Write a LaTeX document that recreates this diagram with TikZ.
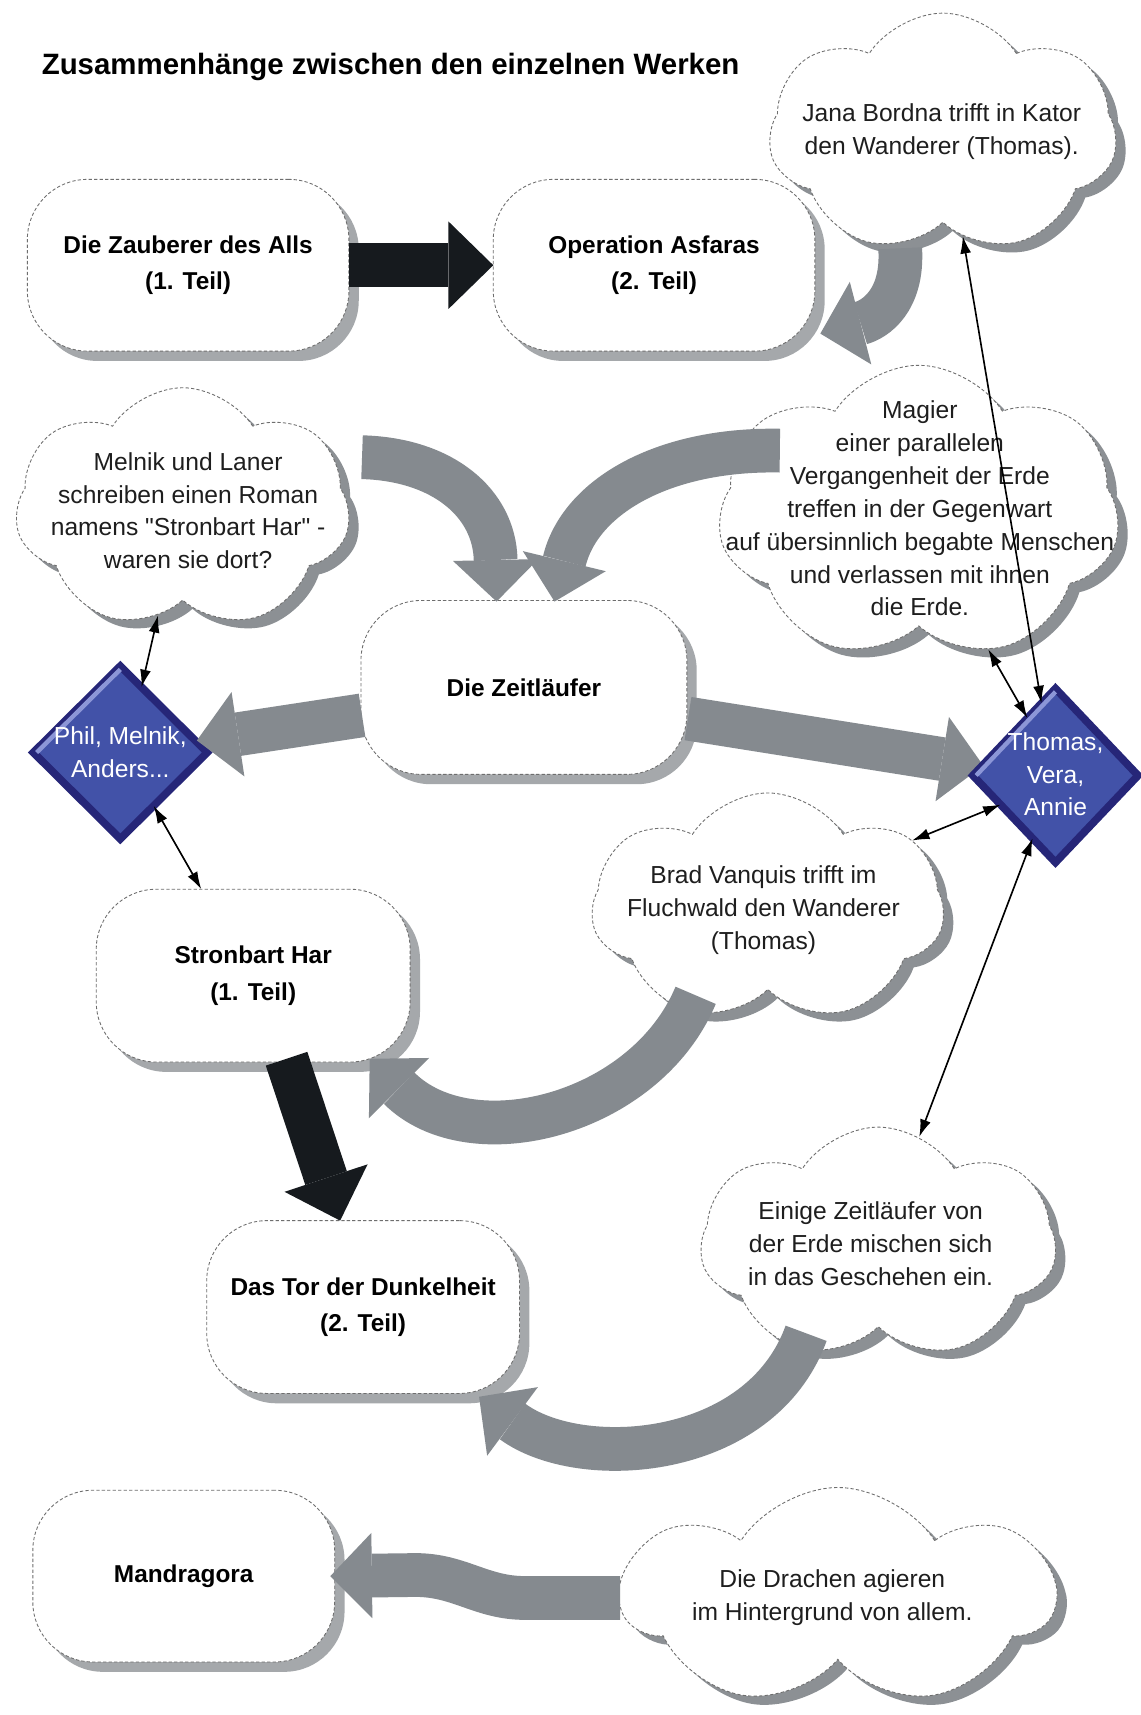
\documentclass[tikz,border=0pt]{standalone}
\usepackage{fontspec}
\setmainfont{Liberation Sans}[Ligatures=TeXOff]
\usetikzlibrary{shapes.geometric,shapes.symbols,shadows,arrows.meta,calc}
\definecolor{boxshadow}{RGB}{165,168,171}
\definecolor{cloudshadow}{RGB}{140,144,148}
\definecolor{outl}{RGB}{110,110,110}
\definecolor{garrow}{RGB}{133,138,143}
\definecolor{barrow}{RGB}{22,26,30}
\definecolor{dblue}{RGB}{66,82,168}
\definecolor{dnavy}{RGB}{38,38,120}
\definecolor{dlight}{RGB}{140,150,215}
\definecolor{txtcol}{RGB}{30,30,30}
\newcommand{\boldtxt}{\bfseries\fontsize{22.3pt}{33.5pt}\selectfont}
\newcommand{\regtxt}{\fontsize{22.5pt}{30pt}\selectfont}
\newcommand{\titletxt}{\bfseries\fontsize{26.9pt}{30pt}\selectfont}
\tikzset{
  pill/.style={rectangle, rounded corners=55pt, draw=outl, dash pattern=on 3pt off 2pt,
    line width=0.8pt, fill=white, minimum width=294pt, minimum height=157pt,
    inner sep=0pt, outer sep=0pt, align=center, font=\boldtxt, text=black,
    drop shadow={shadow xshift=9pt, shadow yshift=-9pt, fill=boxshadow, opacity=1}},
  cloudbox/.style={cloud, cloud puffs=7, cloud puff arc=115, cloud ignores aspect,
    draw=outl, dash pattern=on 3pt off 2pt, line width=0.8pt, fill=white,
    inner sep=0pt, outer sep=0pt,
    drop shadow={shadow xshift=9pt, shadow yshift=-8pt, fill=cloudshadow, opacity=1}},
  ctext/.style={align=center, font=\regtxt, text=txtcol, inner sep=0pt},
  dia/.style={diamond, fill=dblue, draw=dnavy, line width=7pt, inner sep=0pt, outer sep=0pt},
  diatext/.style={align=center, font=\regtxt, text=white, inner sep=0pt},
  garr/.style={draw=garrow, line width=40pt, -{Triangle[length=38pt,width=78pt,line width=0pt]}},
  barr/.style={draw=barrow, line width=40pt, -{Triangle[length=41pt,width=80pt,line width=0pt]}},
  conn/.style={draw=black, line width=1.5pt, {Latex[length=16pt,width=10pt]}-{Latex[length=16pt,width=10pt]}}
}
\begin{document}
\begin{tikzpicture}[x=1pt,y=-1pt]
\useasboundingbox (0,0) rectangle (1043,1568);
\fill[white] (0,0) rectangle (1043,1568);

% title
\node[anchor=base west, font=\titletxt, inner sep=0pt] (title) at (38,68) {Zusammenhänge zwischen den einzelnen Werken};

% clouds
\node[cloudbox, minimum width=318pt, minimum height=220pt] (jana) at (862,122) {};
\node[cloudbox, minimum width=306pt, minimum height=221pt] (melnik) at (167,465) {};
\node[cloudbox, minimum width=367pt, minimum height=270pt] (magier) at (840,469) {};
\node[cloudbox, minimum width=322pt, minimum height=210pt] (brad) at (702,830) {};
\node[cloudbox, minimum width=325pt, minimum height=213pt] (einige) at (803,1137) {};
\node[cloudbox, minimum width=395pt, minimum height=200pt] (drachen) at (766,1460) {};

% boxes
\node[pill] (za) at (172,242.5) {Die Zauberer des Alls\\(1. Teil)};
\node[pill] (oa) at (598,242.5) {Operation Asfaras\\(2. Teil)};
\node[pill, minimum width=298pt, minimum height=159pt] (zl) at (479,628.5) {Die Zeitläufer};
\node[pill, minimum width=287pt, minimum height=158pt] (sh) at (231.5,892) {Stronbart Har\\(1. Teil)};
\node[pill, minimum width=286pt, minimum height=158pt] (tor) at (332,1195) {Das Tor der Dunkelheit\\(2. Teil)};
\node[pill, minimum width=276pt, minimum height=157pt] (mand) at (168,1441) {Mandragora};

% free ends of the block arrows
\coordinate (janaout) at (823,227);
\coordinate (oain) at (750,305);
\coordinate (melnikout) at (331,418);
\coordinate (magierout) at (713,412);
\coordinate (zlleft) at (331,654);
\coordinate (zlright) at (629,657);
\coordinate (rdiain) at (899,700);
\coordinate (ldiain) at (180,677);
\coordinate (bradout) at (636,910);
\coordinate (shin) at (338,968);
\coordinate (shout) at (262,968);
\coordinate (einigeout) at (737,1219);
\coordinate (torin) at (438,1277);
\coordinate (drachenout) at (567,1461);

% block arrows
\draw[barr] (za.east) -- (oa.west);
\draw[garr] (janaout) .. controls (826,275) and (800,292) .. (oain);
\draw[garr] (melnikout) .. controls (405,420) and (452,460) .. ($(zl.north)+(-25,1)$);
\draw[garr] (magierout) .. controls (605,410) and (530,455) .. ($(zl.north)+(28,1)$);
\draw[garr] (bradout) .. controls (590,1020) and (430,1060) .. (shin);
\draw[barr] (shout) -- ($(tor.north)+(-21,0)$);
\draw[garr] (einigeout) .. controls (695,1335) and (530,1345) .. (torin);
\draw[garr] (drachenout) -- (480,1461) .. controls (440,1461) and (420,1440) .. (380,1440) -- ($(mand.east)+(-4,0)$);
\draw[garr] (zlright) -- (rdiain);

% diamonds
\node[dia, minimum width=159pt, minimum height=158pt] (ldia) at (110,688) {};
\draw[dlight, line width=4pt] ($(ldia.west)+(3,0)$) -- ($(ldia.north)+(0,3)$);
\node[dia, minimum width=151pt, minimum height=159pt] (rdia) at (965,709) {};
\draw[dlight, line width=4pt] ($(rdia.west)+(3,0)$) -- ($(rdia.north)+(0,3)$);
\draw[garr] (zlleft) -- (ldiain);

\node[diatext] (ldiat) at (110,688) {Phil, Melnik,\\Anders...};
\node[diatext] (rdiat) at (965,708) {Thomas,\\Vera,\\Annie};

% cloud texts
\node[ctext] (janat) at (861,120) {Jana Bordna trifft in Kator\\den Wanderer (Thomas).};
\node[ctext] (melnikt) at (172,467) {Melnik und Laner\\schreiben einen Roman\\namens "Stronbart Har" -\\waren sie dort?};
\node[ctext] (magiert) at (841,465) {Magier\\einer parallelen\\Vergangenheit der Erde\\treffen in der Gegenwart\\auf übersinnlich begabte Menschen\\und verlassen mit ihnen\\die Erde.};
\node[ctext] (bradt) at (698,832) {Brad Vanquis trifft im\\Fluchwald den Wanderer\\(Thomas)};
\node[ctext] (einiget) at (796,1137) {Einige Zeitläufer von\\der Erde mischen sich\\in das Geschehen ein.};
\node[ctext] (drachent) at (761,1461) {Die Drachen agieren\\im Hintergrund von allem.};

% thin connectors
\draw[conn] (melnik.-103) -- (ldia.72);
\draw[conn] (ldia.-58) -- (sh.121);
\draw[conn] (jana.-79) -- (rdia.101);
\draw[conn] (magier.-63) -- (rdia.116);
\draw[conn] (brad.25) -- (rdia.208);
\draw[conn] (rdia.250) -- (einige.69);
\end{tikzpicture}
\end{document}
